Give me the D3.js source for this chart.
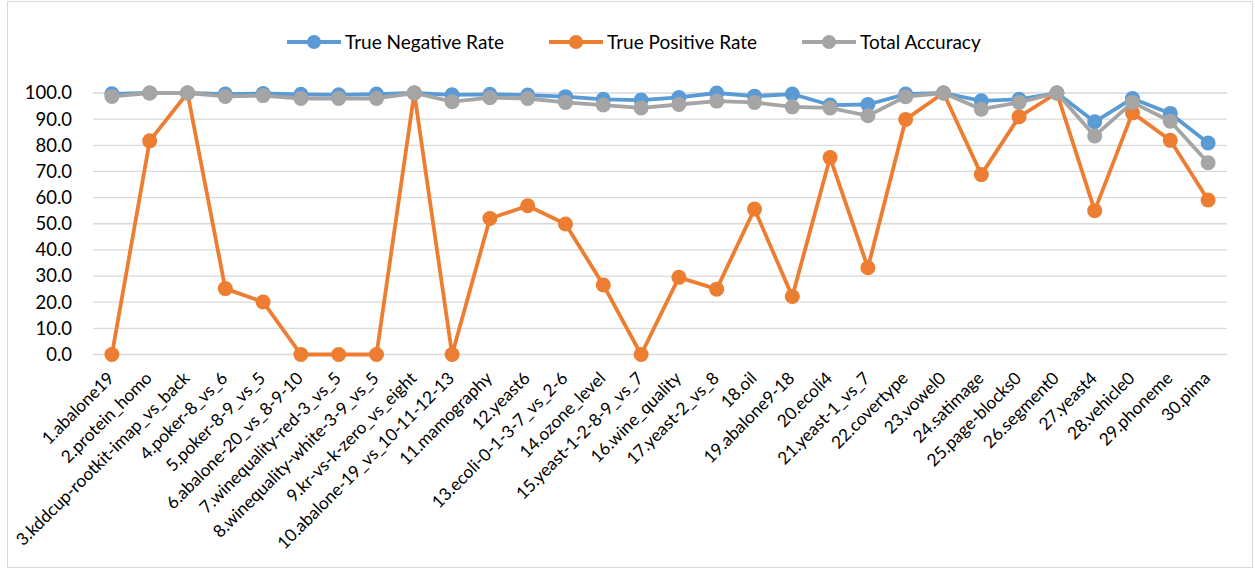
<!DOCTYPE html>
<html>
<head>
<meta charset="utf-8">
<script src="https://cdn.jsdelivr.net/npm/d3@7"></script>
<style>
  body { margin: 0; background: #fff; }
  svg { font-family: Lato, "Open Sans", sans-serif; }
</style>
</head>
<body>
<div id="chart"></div>
<script>
// Data
const categories = [
  "1.abalone19", "2.protein_homo", "3.kddcup-rootkit-imap_vs_back", "4.poker-8_vs_6",
  "5.poker-8-9_vs_5", "6.abalone-20_vs_8-9-10", "7.winequality-red-3_vs_5",
  "8.winequality-white-3-9_vs_5", "9.kr-vs-k-zero_vs_eight", "10.abalone-19_vs_10-11-12-13",
  "11.mamography", "12.yeast6", "13.ecoli-0-1-3-7_vs_2-6", "14.ozone_level",
  "15.yeast-1-2-8-9_vs_7", "16.wine_quality", "17.yeast-2_vs_8", "18.oil",
  "19.abalone9-18", "20.ecoli4", "21.yeast-1_vs_7", "22.covertype", "23.vowel0",
  "24.satimage", "25.page-blocks0", "26.segment0", "27.yeast4", "28.vehicle0",
  "29.phoneme", "30.pima"
];
const trueNegativeRate = [
  99.7, 100, 100, 99.6, 99.8, 99.5, 99.3, 99.6, 100, 99.3,
  99.5, 99.2, 98.6, 97.6, 97.3, 98.3, 100, 98.8, 99.6, 95.4,
  95.6, 99.6, 100, 97.0, 97.6, 100, 89.0, 97.9, 92.2, 80.9
];
const truePositiveRate = [
  0, 81.7, 100, 25.2, 20.1, 0, 0, 0, 100, 0,
  52.0, 56.9, 49.9, 26.6, 0, 29.5, 25.0, 55.6, 22.2, 75.3,
  33.2, 89.9, 100, 68.8, 90.9, 100, 55.0, 92.4, 81.9, 59.1
];
const totalAccuracy = [
  98.7, 100, 100, 98.7, 99.0, 97.9, 97.9, 97.9, 100, 96.7,
  98.2, 97.9, 96.4, 95.4, 94.3, 95.6, 96.9, 96.4, 94.7, 94.3,
  91.3, 98.6, 100, 93.8, 96.4, 100, 83.6, 96.4, 89.2, 73.3
];
const yTicks = [0, 10, 20, 30, 40, 50, 60, 70, 80, 90, 100];

const series = [
  { name: "True Negative Rate", values: trueNegativeRate, color: "#5B9BD5" },
  { name: "True Positive Rate", values: truePositiveRate, color: "#ED7D31" },
  { name: "Total Accuracy", values: totalAccuracy, color: "#A5A5A5" }
];

// Dimensions
const width = 1255;
const height = 569;
const margin = { top: 93, bottom: 215, left: 93, right: 28 };

const svg = d3.select("#chart").append("svg")
  .attr("width", width)
  .attr("height", height);

// outer border
svg.append("rect")
  .attr("x", 7.5).attr("y", 1.5)
  .attr("width", width - 10).attr("height", height - 3)
  .attr("fill", "#fff")
  .attr("stroke", "#d9d9d9");

const xScale = d3.scaleBand()
  .domain(categories)
  .range([margin.left, width - margin.right]);

const yScale = d3.scaleLinear()
  .domain([0, 100])
  .range([height - margin.bottom + 0.5, margin.top]);

// gridlines
svg.append("g")
  .selectAll("line")
  .data(yTicks)
  .enter()
  .append("line")
  .attr("x1", margin.left)
  .attr("x2", width - margin.right)
  .attr("y1", (d) => yScale(d))
  .attr("y2", (d) => yScale(d))
  .attr("stroke", "#d9d9d9")
  .attr("stroke-width", 1.3);

// Y axis
const yAxis = svg.append("g")
  .attr("transform", `translate(${margin.left - 21},0)`)
  .call(d3.axisLeft(yScale).tickValues(yTicks).tickFormat(d3.format(".1f")).tickSize(0));
yAxis.select(".domain").remove();
yAxis.selectAll("text")
  .attr("font-size", 18.5)
  .attr("font-family", "Lato, sans-serif")
  .attr("fill", "#000")
  .attr("x", 0);

// X axis labels
const xAxis = svg.append("g")
  .attr("transform", `translate(0,${height - margin.bottom + 10})`)
  .call(d3.axisBottom(xScale).tickSize(0));
xAxis.select(".domain").remove();
xAxis.selectAll("text")
  .attr("font-size", 17.3)
  .attr("font-family", "Lato, sans-serif")
  .attr("fill", "#000")
  .attr("text-anchor", "end")
  .attr("dy", "0.35em")
  .attr("y", 0)
  .attr("transform", "translate(-1,11) rotate(-45)");

// Lines and markers
const line = d3.line()
  .x((d, i) => xScale(categories[i]) + xScale.bandwidth() / 2)
  .y((d) => yScale(d));

series.forEach((s) => {
  const g = svg.append("g");
  g.append("path")
    .datum(s.values)
    .attr("d", line)
    .attr("fill", "none")
    .attr("stroke", s.color)
    .attr("stroke-width", 3.8)
    .attr("stroke-linejoin", "round");
  g.selectAll("circle")
    .data(s.values)
    .enter()
    .append("circle")
    .attr("cx", (d, i) => xScale(categories[i]) + xScale.bandwidth() / 2)
    .attr("cy", (d) => yScale(d))
    .attr("r", 7.5)
    .attr("fill", s.color);
});

// Legend
const legendX = [287, 549, 802];
const legend = svg.append("g");
series.forEach((s, i) => {
  const lg = legend.append("g").attr("transform", `translate(${legendX[i]},42)`);
  lg.append("line")
    .attr("x1", 0).attr("x2", 54)
    .attr("stroke", s.color).attr("stroke-width", 3.8);
  lg.append("circle").attr("cx", 27).attr("r", 7).attr("fill", s.color);
  lg.append("text")
    .attr("x", 58)
    .attr("dy", "0.35em")
    .attr("font-size", 19)
    .attr("fill", "#000")
    .text(s.name);
});
</script>
</body>
</html>
